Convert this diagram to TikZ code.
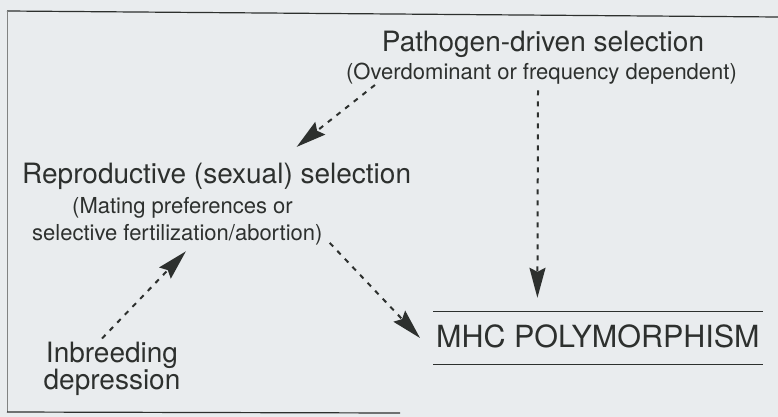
\documentclass[tikz,border=0pt]{standalone}
\usepackage{fontspec}
\setmainfont{TeX Gyre Heros}
\usetikzlibrary{arrows.meta}
\definecolor{paper}{RGB}{233,236,238}
\definecolor{ink}{RGB}{45,48,46}

\begin{document}
\begin{tikzpicture}[x=1pt,y=-1pt,
    big/.style={inner sep=0pt,text=ink,font=\fontsize{28}{26}\selectfont},
    small/.style={inner sep=0pt,text=ink,font=\fontsize{22}{27}\selectfont},
    mhcbox/.style={inner xsep=3pt,inner ysep=13pt,text height=22pt,text depth=4pt,
        text=ink,font=\fontsize{30.5}{34}\selectfont},
    link/.style={draw=ink,line width=2pt,dash pattern=on 5pt off 6pt,
        -{Stealth[length=30pt,width=16pt,inset=4pt]}}]
    \fill[paper] (0,0) rectangle (778,417);
    \useasboundingbox (0,0) rectangle (778,417);
    % frame
    \draw[ink,line width=1.2pt] (7,11) -- (778,17);
    \draw[ink!60,line width=0.6pt] (7,11) -- (7,412);
    \draw[ink,line width=1.2pt] (7,412) -- (400,413);

    \node[big,anchor=base] (path) at (543,52) {Pathogen-driven selection};
    \node[small,anchor=base] (pathsub) at (541.5,80) {(Overdominant or frequency dependent)};
    \node[big,anchor=base west] (repro) at (22,183) {Reproductive (sexual) selection};
    \node[small,anchor=base west] (repsubA) at (72,213) {(Mating preferences or};
    \node[small,anchor=base west] (repsubB) at (32,240) {selective fertilization/abortion)};
    \node[big,anchor=north,align=center] (inb) at (112,341.5) {Inbreeding\\depression};
    \node[mhcbox,anchor=base west] (mhc) at (433,347) {MHC POLYMORPHISM};
    \draw[ink,line width=1.2pt] (mhc.north west) -- (mhc.north east);
    \draw[ink,line width=1.2pt] (mhc.south west) -- (mhc.south east);

    % arrows
    \draw[link] ([xshift=29pt]pathsub.south west) -- ([xshift=80pt,yshift=15.5pt]repro.north);
    \draw[link] ([xshift=-3.5pt,yshift=-5.4pt]pathsub.south) -- ([xshift=-60.5pt,yshift=14pt]mhc.north);
    \draw[link] ([xshift=7pt,yshift=2pt]repsubB.south east) -- ([xshift=-13pt]mhc.west);
    \draw[link] ([xshift=-10pt,yshift=3pt]inb.north) -- ([xshift=8.5pt,yshift=-6.5pt]repsubB.south);
\end{tikzpicture}
\end{document}
